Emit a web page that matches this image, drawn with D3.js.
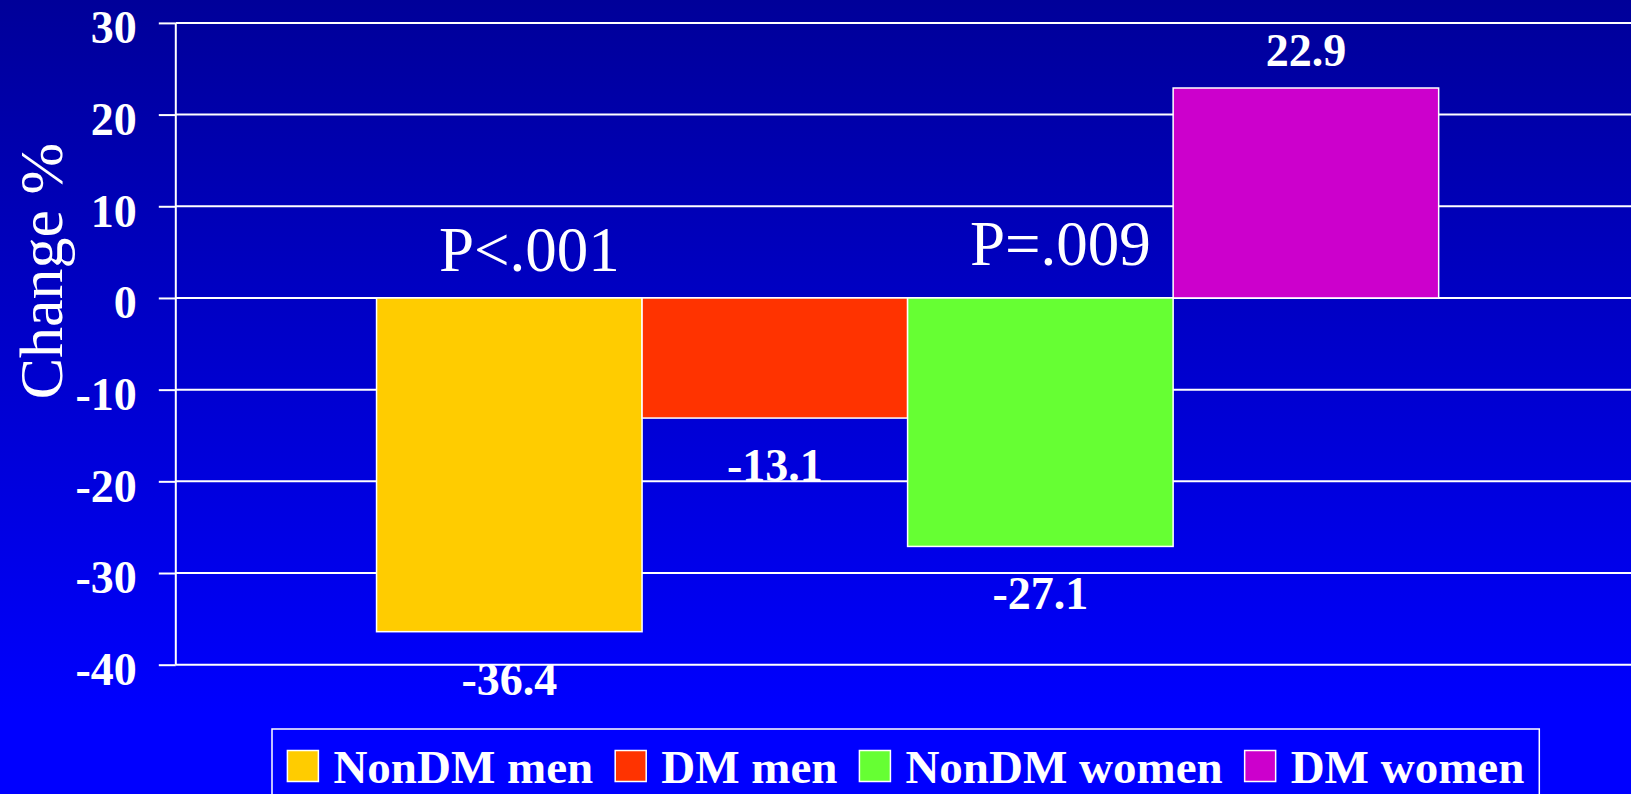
<!DOCTYPE html>
<html>
<head>
<meta charset="utf-8">
<script src="https://cdn.jsdelivr.net/npm/d3@7/dist/d3.min.js"></script>
<style>
  html, body { margin: 0; padding: 0; background: #0000ff; }
  svg { display: block; }
  text { font-family: "Liberation Serif", "Times New Roman", serif; fill: #fff; }
</style>
</head>
<body>
<svg id="chart" width="1631" height="794"></svg>
<script>
// Percent change by group
const categories = ["NonDM men", "DM men", "NonDM women", "DM women"];
const values = [-36.4, -13.1, -27.1, 22.9];
const colors = ["#FFCC00", "#FF3300", "#66FF33", "#CC00CC"];
const yTicks = [30, 20, 10, 0, -10, -20, -30, -40];
// Significance notes: text, bar they sit over, height in data units
const pNotes = ["P<.001", "P=.009"];
const pNoteBars = ["NonDM men", "NonDM women"];
const pNoteLevels = [2.9, 3.6];

const W = 1631, H = 794;
const plot = { left: 175.8, right: 1639.4, top: 22.9, bottom: 664.7 };

const svg = d3.select("#chart");

// Background gradient, dark navy at top to bright blue
const defs = svg.append("defs");
const grad = defs.append("linearGradient")
  .attr("id", "bg").attr("x1", 0).attr("y1", 0).attr("x2", 0).attr("y2", 1);
grad.append("stop").attr("offset", "0%").attr("stop-color", "#000099");
grad.append("stop").attr("offset", "90%").attr("stop-color", "#0000FF");
grad.append("stop").attr("offset", "100%").attr("stop-color", "#0000FF");
svg.append("rect").attr("width", W).attr("height", H).attr("fill", "url(#bg)");

const x = d3.scaleBand()
  .domain(categories)
  .range([plot.left, plot.right])
  .paddingInner(0)
  .paddingOuter(0.756);

const y = d3.scaleLinear()
  .domain([-40, 30])
  .range([plot.bottom, plot.top]);

// Horizontal gridlines
svg.append("g").selectAll("line")
  .data(yTicks)
  .join("line")
  .attr("x1", plot.left).attr("x2", plot.right)
  .attr("y1", d => y(d)).attr("y2", d => y(d))
  .attr("stroke", "#fff").attr("stroke-width", 2);

// Bars
const data = categories.map((c, i) => ({ cat: c, value: values[i], color: colors[i] }));
svg.append("g").selectAll("rect")
  .data(data)
  .join("rect")
  .attr("x", d => x(d.cat))
  .attr("width", x.bandwidth())
  .attr("y", d => y(Math.max(0, d.value)))
  .attr("height", d => Math.abs(y(d.value) - y(0)))
  .attr("fill", d => d.color)
  .attr("stroke", "#fff")
  .attr("stroke-width", 1.5);

// Y axis (plain hyphen for negatives)
const yAxis = d3.axisLeft(y)
  .tickValues(yTicks)
  .tickFormat(d => String(d))
  .tickSize(17)
  .tickPadding(22);
const ax = svg.append("g")
  .attr("transform", `translate(${plot.left},0)`)
  .call(yAxis);
ax.select(".domain").attr("stroke", "#fff").attr("stroke-width", 2)
  .attr("d", `M0,${plot.top}V${plot.bottom}`);
ax.selectAll(".tick line").attr("stroke", "#fff").attr("stroke-width", 2);
ax.selectAll(".tick text")
  .attr("fill", "#fff")
  .style("font-family", '"Liberation Serif", "Times New Roman", serif')
  .style("font-size", "46px")
  .style("font-weight", "bold")
  .attr("dy", "0.43em");

// Axis title
svg.append("text")
  .attr("transform", `translate(62,271) rotate(-90)`)
  .attr("text-anchor", "middle")
  .style("font-size", "62px")
  .text("Change %");

// Value labels
svg.append("g").selectAll("text")
  .data(data)
  .join("text")
  .attr("x", d => x(d.cat) + x.bandwidth() / 2)
  .attr("y", d => d.value >= 0 ? y(d.value) - 22 : y(d.value) + 63)
  .attr("text-anchor", "middle")
  .style("font-size", "46px")
  .style("font-weight", "bold")
  .text(d => d.value.toFixed(1));

// Significance notes
svg.append("g").selectAll("text")
  .data(pNotes)
  .join("text")
  .attr("x", (d, i) => x(pNoteBars[i]) + x.bandwidth() / 2 + 20)
  .attr("y", (d, i) => y(pNoteLevels[i]))
  .attr("text-anchor", "middle")
  .style("font-size", "63px")
  .text(d => d);

// Legend
const legend = svg.append("g");
legend.append("rect")
  .attr("x", 272).attr("y", 729)
  .attr("width", 1539.3 - 272).attr("height", 120)
  .attr("fill", "none").attr("stroke", "#fff").attr("stroke-width", 1.5);

const swatch = 31, gapText = 15, gapItem = 22;
let lx = 287.4;
categories.forEach((c, i) => {
  legend.append("rect")
    .attr("x", lx).attr("y", 750.5)
    .attr("width", swatch).attr("height", swatch)
    .attr("fill", colors[i]).attr("stroke", "#fff").attr("stroke-width", 1.5);
  const t = legend.append("text")
    .attr("x", lx + swatch + gapText).attr("y", 782.5)
    .style("font-size", "47px").style("font-weight", "bold")
    .text(c);
  const w = t.node().getComputedTextLength();
  lx += swatch + gapText + w + gapItem;
});
</script>
</body>
</html>
